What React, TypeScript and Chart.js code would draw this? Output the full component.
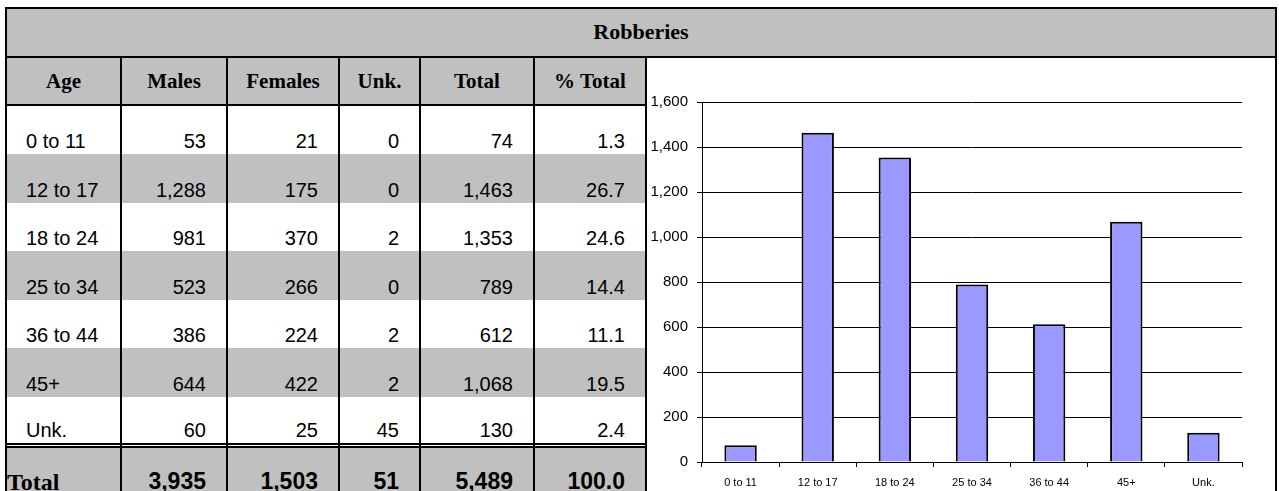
import React, { useEffect, useRef } from "react";
import { Chart, registerables } from "chart.js";

Chart.register(...registerables);

// ---- data ----
const title = "Robberies";
const headers = ["Age", "Males", "Females", "Unk.", "Total", "% Total"];
const ageGroups = ["0 to 11", "12 to 17", "18 to 24", "25 to 34", "36 to 44", "45+", "Unk."];
const males = [53, 1288, 981, 523, 386, 644, 60];
const females = [21, 175, 370, 266, 224, 422, 25];
const unknownSex = [0, 0, 2, 0, 2, 2, 45];
const totals = [74, 1463, 1353, 789, 612, 1068, 130];
const pctTotal = [1.3, 26.7, 24.6, 14.4, 11.1, 19.5, 2.4];
const totalRowLabel = "Total";
const totalRowValues = [3935, 1503, 51, 5489];
const totalRowPct = 100.0;
const yMin = 0;
const yMax = 1600;
const yStep = 200;

// ---- style / layout ----
const SANS = "'Liberation Sans', Arial, Helvetica, sans-serif";
const SERIF = "'Liberation Serif', 'Times New Roman', Times, serif";
const GRAY = "#C0C0C0";
const BAR = "#9999FF";
const colLines = [120, 226, 338, 419, 533, 645];
const rowEdges = [106, 154, 203, 251, 300, 348, 397, 443];

const fmt = (v: number) => v.toLocaleString("en-US");

type Sty = React.CSSProperties;
const abs = (l: number, t: number, w: number, h: number, extra: Sty = {}): Sty => ({
  position: "absolute",
  left: l,
  top: t,
  width: w,
  height: h,
  ...extra,
});

function cellBounds(i: number): [number, number] {
  const left = i === 0 ? 7 : colLines[i - 1] + 2;
  const right = colLines[i];
  return [left, right];
}

function BarChart() {
  const ref = useRef<HTMLCanvasElement | null>(null);
  useEffect(() => {
    if (!ref.current) return;
    const chart = new Chart(ref.current, {
      type: "bar",
      data: {
        labels: ageGroups,
        datasets: [
          {
            data: totals,
            backgroundColor: BAR,
            borderColor: "#000",
            borderWidth: 2,
            barPercentage: 0.42,
            categoryPercentage: 1,
          },
        ],
      },
      options: {
        responsive: false,
        animation: false,
        layout: { padding: { top: 44, right: 33, left: 0, bottom: 0 } },
        plugins: {
          legend: { display: false },
          tooltip: { enabled: false },
          title: { display: false },
        },
        scales: {
          x: {
            grid: {
              display: true,
              drawOnChartArea: false,
              drawTicks: true,
              tickLength: 5,
              color: "#000",
              offset: true,
            },
            border: { display: true, color: "#000", width: 1 },
            ticks: {
              font: { family: SANS, size: 11 },
              color: "#000",
              padding: 9,
              maxRotation: 0,
              autoSkip: false,
            },
            afterFit: (s: any) => {
              s.height = 29;
            },
          },
          y: {
            min: yMin,
            max: yMax,
            ticks: {
              stepSize: yStep,
              font: { family: SANS, size: 15 },
              color: "#000",
              padding: 9,
              callback: (v: any) => fmt(Number(v)),
            },
            grid: { color: "#000", lineWidth: 1, tickLength: 5, drawTicks: true },
            border: { display: true, color: "#000", width: 1 },
            afterFit: (s: any) => {
              s.width = 54;
            },
          },
        },
      } as any,
    });
    return () => chart.destroy();
  }, []);
  return <canvas ref={ref} width={627} height={433} style={{ display: "block", width: 627, height: 433 }} />;
}

export default function App() {
  const black: Sty = { background: "#000" };
  const dataFont: Sty = { fontFamily: SANS, fontSize: 20, lineHeight: "20px", color: "#000", whiteSpace: "nowrap" };
  const rows = ageGroups.map((age, r) => [
    age,
    fmt(males[r]),
    fmt(females[r]),
    fmt(unknownSex[r]),
    fmt(totals[r]),
    pctTotal[r].toFixed(1),
  ]);
  const totalCells = [...totalRowValues.map(fmt), totalRowPct.toFixed(1)];

  return (
    <div style={abs(0, 0, 1279, 491, { overflow: "hidden", background: "#fff" })}>
      {/* title band */}
      <div style={abs(7, 9, 1268, 47, { background: GRAY })} />
      <div
        style={abs(7, 21, 1268, 22, {
          textAlign: "center",
          fontFamily: SERIF,
          fontWeight: "bold",
          fontSize: 22,
          lineHeight: "22px",
          color: "#000",
        })}
      >
        {title}
      </div>
      <div style={abs(7, 56, 1268, 2, black)} />

      {/* header band */}
      <div style={abs(7, 58, 638, 46, { background: GRAY })} />
      <div style={abs(7, 104, 638, 2, black)} />

      {/* stripes */}
      {rowEdges.slice(0, -1).map((top, i) =>
        i % 2 === 1 ? (
          <div key={"s" + i} style={abs(7, top, 638, rowEdges[i + 1] - top, { background: GRAY })} />
        ) : null
      )}

      {/* double line + total band */}
      <div style={abs(7, 443, 638, 2, black)} />
      <div style={abs(7, 446, 638, 2, black)} />
      <div style={abs(7, 448, 638, 60, { background: GRAY })} />

      {/* column lines */}
      {colLines.map((x, i) => (
        <div key={"c" + i} style={abs(x, 56, 2, 440, black)} />
      ))}

      {/* header text */}
      {headers.map((h, i) => {
        const [l, r] = cellBounds(i);
        return (
          <div
            key={"h" + i}
            style={abs(l, 71, r - l, 21, {
              textAlign: "center",
              fontFamily: SERIF,
              fontWeight: "bold",
              fontSize: 21,
              lineHeight: "21px",
              color: "#000",
              whiteSpace: "nowrap",
            })}
          >
            {h}
          </div>
        );
      })}

      {/* data text */}
      {rows.map((cells, r) =>
        cells.map((txt, i) => {
          const [l, rr] = cellBounds(i);
          const top = rowEdges[r + 1] - 23;
          const st: Sty =
            i === 0
              ? abs(l, top, rr - l, 20, { ...dataFont, textAlign: "left", paddingLeft: 19, boxSizing: "border-box" })
              : abs(l, top, rr - l, 20, { ...dataFont, textAlign: "right", paddingRight: 20, boxSizing: "border-box" });
          return (
            <div key={"d" + r + "_" + i} style={st}>
              {txt}
            </div>
          );
        })
      )}

      {/* total row */}
      <div
        style={abs(7, 470, 110, 24, {
          fontFamily: SERIF,
          fontWeight: "bold",
          fontSize: 24,
          lineHeight: "24px",
          color: "#000",
          whiteSpace: "nowrap",
        })}
      >
        {totalRowLabel}
      </div>
      {totalCells.map((txt, k) => {
        const [l, r] = cellBounds(k + 1);
        return (
          <div
            key={"t" + k}
            style={abs(l, 470, r - l, 23, {
              fontFamily: SANS,
              fontWeight: "bold",
              fontSize: 23,
              lineHeight: "23px",
              color: "#000",
              textAlign: "right",
              paddingRight: 20,
              boxSizing: "border-box",
              whiteSpace: "nowrap",
            })}
          >
            {txt}
          </div>
        );
      })}

      {/* chart */}
      <div style={abs(648, 58, 627, 433)}>
        <BarChart />
      </div>

      {/* outer border */}
      <div style={abs(5, 7, 1272, 500, { border: "2px solid #000", boxSizing: "border-box" })} />
    </div>
  );
}
